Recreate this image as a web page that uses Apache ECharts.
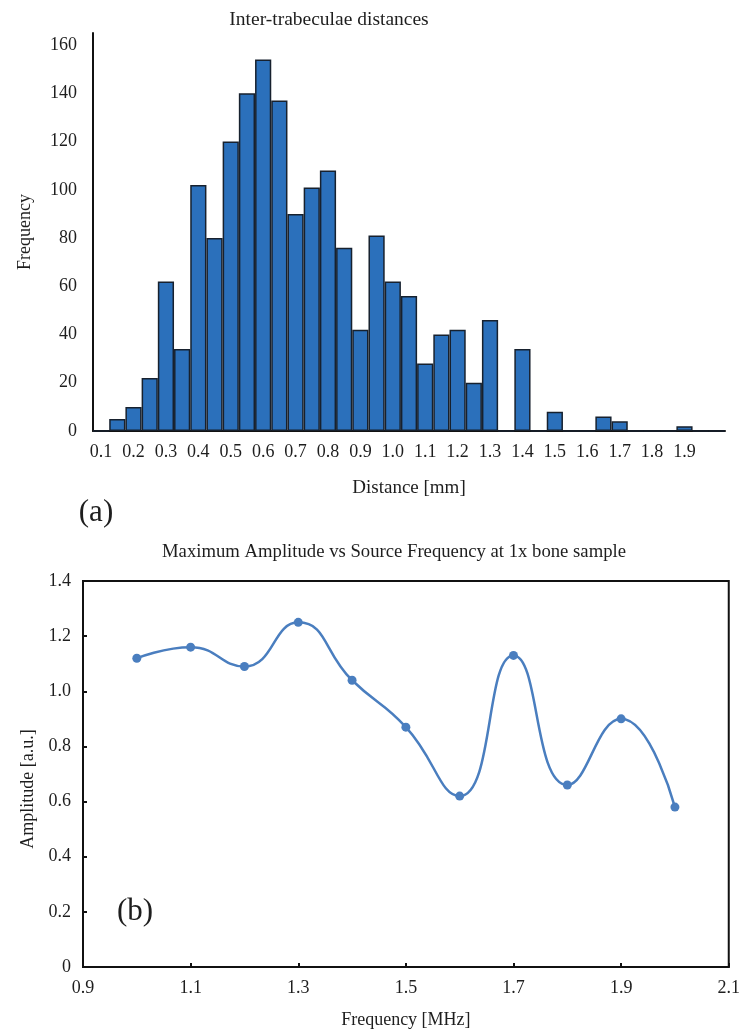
<!DOCTYPE html>
<html>
<head>
<meta charset="utf-8">
<title>Inter-trabeculae distances / Maximum Amplitude</title>
<script src="https://cdn.jsdelivr.net/npm/echarts@6/dist/echarts.min.js"></script>
<style>
  html, body { margin: 0; padding: 0; background: #fff; }
  #chart { width: 743px; height: 1030px; }
</style>
</head>
<body>
<div id="chart"></div>
<script>
// (a) histogram: bin centres in mm (category axis), one bar per bin
const distanceBins = ['0.10','0.15','0.20','0.25','0.30','0.35','0.40','0.45','0.50','0.55',
  '0.60','0.65','0.70','0.75','0.80','0.85','0.90','0.95','1.00','1.05',
  '1.10','1.15','1.20','1.25','1.30','1.35','1.40','1.45','1.50','1.55',
  '1.60','1.65','1.70','1.75','1.80','1.85','1.90','1.95','2.00']
const frequencyCounts = [0, 5, 10, 22, 62, 34, 102, 80, 120, 140,
  154, 137, 90, 101, 108, 76, 42, 81, 62, 56,
  28, 40, 42, 20, 46, 0, 34, 0, 8, 0,
  0, 6, 4, 0, 0, 0, 2, 0, 0]
// labels actually printed under the histogram (every 0.1 mm up to 1.9)
const distanceTickLabels = ['0.1','0.2','0.3','0.4','0.5','0.6','0.7','0.8','0.9','1.0',
  '1.1','1.2','1.3','1.4','1.5','1.6','1.7','1.8','1.9']

// (b) amplitude vs source frequency
const sourceFreq = [1.0, 1.1, 1.2, 1.3, 1.4, 1.5, 1.6, 1.7, 1.8, 1.9, 2.0]
const maxAmplitude = [1.12, 1.16, 1.09, 1.25, 1.04, 0.87, 0.62, 1.13, 0.66, 0.90, 0.58]

const serif = '"Liberation Serif", "Times New Roman", serif'
const textColor = '#1e1e1e'

const chart = echarts.init(document.getElementById('chart'))

const option = {
  backgroundColor: '#fff',
  animation: false,
  textStyle: { fontFamily: serif },
  graphic: [
    { type: 'text', x: 329, y: 20,
      style: { text: 'Inter-trabeculae distances', font: '19.5px ' + serif, fill: textColor, align: 'center', verticalAlign: 'middle' } },
    { type: 'text', x: 96, y: 513,
      style: { text: '(a)', font: '31px ' + serif, fill: textColor, align: 'center', verticalAlign: 'middle' } },
    { type: 'text', x: 394, y: 552,
      style: { text: 'Maximum Amplitude vs Source Frequency at 1x bone sample', font: '18.7px ' + serif, fill: textColor, align: 'center', verticalAlign: 'middle' } },
    { type: 'text', x: 135, y: 912,
      style: { text: '(b)', font: '31px ' + serif, fill: textColor, align: 'center', verticalAlign: 'middle' } }
  ],
  grid: [
    { left: 93, top: 33, width: 632, height: 398 },
    { left: 83, top: 581, width: 653, height: 387, show: true, borderColor: '#111', borderWidth: 2 }
  ],
  xAxis: [
    {
      gridIndex: 0,
      type: 'category',
      data: distanceBins,
      boundaryGap: true,
      name: 'Distance [mm]',
      nameLocation: 'middle',
      nameGap: 48,
      nameTextStyle: { fontSize: 19, color: textColor, fontFamily: serif },
      axisLine: { lineStyle: { color: '#111', width: 2 } },
      axisTick: { show: false },
      axisLabel: {
        interval: 0,
        margin: 12,
        fontSize: 18,
        color: textColor,
        fontFamily: serif,
        // only the 0.1 mm steps carry a printed label
        formatter: (v) => {
          const s = v.slice(0, 3)
          return v.endsWith('0') && distanceTickLabels.includes(s) ? s : ''
        }
      },
      splitLine: { show: false }
    },
    {
      gridIndex: 1,
      type: 'value',
      min: 0.9,
      max: 2.1,
      interval: 0.2,
      name: 'Frequency [MHz]',
      nameLocation: 'middle',
      nameGap: 44,
      nameTextStyle: { fontSize: 18, color: textColor, fontFamily: serif },
      axisLine: { lineStyle: { color: '#111', width: 2 } },
      axisTick: { show: true, inside: true, length: 4, lineStyle: { color: '#111', width: 2 } },
      axisLabel: { margin: 12, fontSize: 18, color: textColor, fontFamily: serif, formatter: (v) => v.toFixed(1) },
      splitLine: { show: false }
    }
  ],
  yAxis: [
    {
      gridIndex: 0,
      type: 'value',
      min: 0,
      max: 165,
      interval: 20,
      name: 'Frequency',
      nameLocation: 'middle',
      nameGap: 59,
      nameTextStyle: { fontSize: 18, color: textColor, fontFamily: serif },
      axisLine: { show: true, lineStyle: { color: '#111', width: 2 } },
      axisTick: { show: false },
      axisLabel: { showMaxLabel: false, margin: 16, fontSize: 18, color: textColor, fontFamily: serif },
      splitLine: { show: false }
    },
    {
      gridIndex: 1,
      type: 'value',
      min: 0,
      max: 1.4,
      interval: 0.2,
      name: 'Amplitude [a.u.]',
      nameLocation: 'middle',
      nameGap: 36,
      nameTextStyle: { fontSize: 18, color: textColor, fontFamily: serif, padding: [0, 30, 0, 0] },
      axisLine: { show: true, lineStyle: { color: '#111', width: 2 } },
      axisTick: { show: true, inside: true, length: 4, lineStyle: { color: '#111', width: 2 } },
      axisLabel: { margin: 12, fontSize: 18, color: textColor, fontFamily: serif,
        formatter: (v) => (v === 0 ? '0' : v.toFixed(1)) },
      splitLine: { show: false }
    }
  ],
  series: [
    {
      type: 'bar',
      xAxisIndex: 0,
      yAxisIndex: 0,
      data: frequencyCounts,
      barWidth: '100%',
      itemStyle: { color: '#2b70bb', borderColor: '#17212e', borderWidth: 1.5 }
    },
    {
      type: 'line',
      xAxisIndex: 1,
      yAxisIndex: 1,
      data: sourceFreq.map((f, i) => [f, maxAmplitude[i]]),
      smooth: 0.5,
      symbol: 'circle',
      symbolSize: 9,
      lineStyle: { color: '#4a7ebf', width: 2.5 },
      itemStyle: { color: '#4a7ebf' }
    }
  ]
}

chart.setOption(option)
</script>
</body>
</html>
